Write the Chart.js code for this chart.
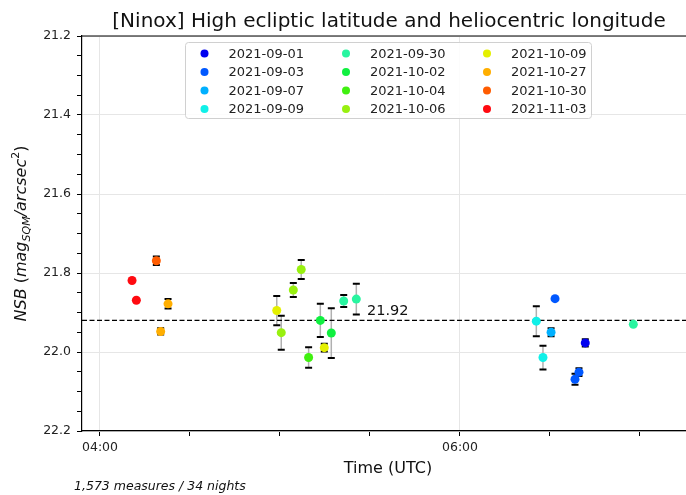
<!DOCTYPE html>
<html>
<head>
<meta charset="utf-8">
<script src="https://cdn.jsdelivr.net/npm/chart.js@4/dist/chart.umd.min.js"></script>
<style>
  html, body { margin: 0; padding: 0; background: #fff; }
  #wrap { width: 686px; height: 495px; }
</style>
</head>
<body>
<div id="wrap"><canvas id="chart" width="686" height="495"></canvas></div>
<script>
// nights shown in the legend and their colours
const dates = ["2021-09-01", "2021-09-03", "2021-09-07", "2021-09-09",
               "2021-09-30", "2021-10-02", "2021-10-04", "2021-10-06",
               "2021-10-09", "2021-10-27", "2021-10-30", "2021-11-03"];
const dateColors = ["#0000f0", "#0058ff", "#00b0ff", "#10f0e8",
                    "#28f5a0", "#10f040", "#40f010", "#98f010",
                    "#e4f000", "#ffae00", "#ff5c00", "#ff0a10"];

// one entry per point: time (hours UTC), NSB, error, night index
const pointTime = [4.313, 4.178, 4.202, 4.378, 4.337,
                   4.982, 5.007, 5.074, 5.118, 5.159, 5.224, 5.246, 5.285, 5.354, 5.424,
                   6.424, 6.528, 6.506, 6.461, 6.696, 6.661, 6.639, 6.963];
const pointNsb  = [21.769, 21.819, 21.869, 21.878, 21.948,
                   21.895, 21.951, 21.843, 21.791, 22.014, 21.920, 21.989, 21.952, 21.871, 21.866,
                   21.922, 21.865, 21.950, 22.014, 21.977, 22.051, 22.069, 21.930];
const pointErr  = [0.011, 0, 0, 0.012, 0.008,
                   0.037, 0.043, 0.018, 0.024, 0.026, 0.042, 0.010, 0.063, 0.015, 0.039,
                   0.038, 0, 0.010, 0.030, 0.009, 0.010, 0.014, 0];
const pointNight = [10, 11, 11, 9, 9,
                    8, 7, 7, 7, 6, 5, 8, 5, 4, 4,
                    3, 1, 2, 3, 0, 1, 1, 4];

const meanNsb = 21.92;

const xMajorTicks = [4, 6];
const xTickLabels = ["04:00", "06:00"];
const xMinorTicks = [4, 4.5, 5, 5.5, 6, 6.5, 7];
const yMajorTicks = [21.2, 21.4, 21.6, 21.8, 22.0, 22.2];
const yTickLabels = ["21.2", "21.4", "21.6", "21.8", "22.0", "22.2"];

const FONT = "'DejaVu Sans', sans-serif";

let yMinorTicks = [];
for (let v = 21.2; v < 22.2001; v += 0.05) yMinorTicks.push(Math.round(v * 100) / 100);

function findTick(list, v) {
    return list.findIndex(t => Math.abs(t - v) < 1e-6);
}

const datasets = dates.map((d, i) => {
    const pts = [];
    pointTime.forEach((t, k) => {
        if (pointNight[k] === i) pts.push({ x: t, y: pointNsb[k], e: pointErr[k] });
    });
    return {
        label: d,
        data: pts,
        backgroundColor: dateColors[i],
        borderWidth: 0,
        pointRadius: 4.5,
    };
});

// the plot runs off the right edge of the picture
const stretchRight = {
    id: "stretchRight",
    afterLayout(chart) {
        const xs = chart.scales.x;
        const right = chart.width;
        xs.right = right;
        xs.width = right - xs.left;
        xs.configure();
        chart.chartArea.right = right;
        chart.chartArea.width = right - chart.chartArea.left;
    },
};

const errorBars = {
    id: "errorBars",
    beforeDatasetsDraw(chart) {
        const ctx = chart.ctx;
        const ys = chart.scales.y;
        ctx.save();
        chart.data.datasets.forEach((ds, i) => {
            const meta = chart.getDatasetMeta(i);
            meta.data.forEach((el, k) => {
                const p = ds.data[k];
                if (!p.e) return;
                const y1 = ys.getPixelForValue(p.y - p.e);
                const y2 = ys.getPixelForValue(p.y + p.e);
                ctx.strokeStyle = "#b0b0b0";
                ctx.lineWidth = 1.5;
                ctx.beginPath();
                ctx.moveTo(el.x, y1);
                ctx.lineTo(el.x, y2);
                ctx.stroke();
                ctx.strokeStyle = "#000";
                ctx.lineWidth = 2;
                ctx.beginPath();
                ctx.moveTo(el.x - 3.5, y1); ctx.lineTo(el.x + 3.5, y1);
                ctx.moveTo(el.x - 3.5, y2); ctx.lineTo(el.x + 3.5, y2);
                ctx.stroke();
            });
        });
        ctx.restore();
    },
};

const decorations = {
    id: "decorations",
    beforeDatasetsDraw(chart) {
        const ctx = chart.ctx;
        const a = chart.chartArea;
        const y = chart.scales.y.getPixelForValue(meanNsb);
        ctx.save();
        ctx.strokeStyle = "#000";
        ctx.lineWidth = 1.2;
        ctx.setLineDash([5, 2.5]);
        ctx.beginPath();
        ctx.moveTo(a.left, y);
        ctx.lineTo(a.right, y);
        ctx.stroke();
        ctx.restore();
    },
    afterDraw(chart) {
        const ctx = chart.ctx;
        const a = chart.chartArea;
        ctx.save();

        // top spine
        ctx.strokeStyle = "#000";
        ctx.lineWidth = 1.2;
        ctx.beginPath();
        ctx.moveTo(a.left, a.top);
        ctx.lineTo(a.right, a.top);
        ctx.stroke();

        // mean label
        ctx.fillStyle = "#111";
        ctx.font = "14.5px " + FONT;
        ctx.textAlign = "left";
        ctx.textBaseline = "alphabetic";
        ctx.fillText(meanNsb.toFixed(2), 367, chart.scales.y.getPixelForValue(meanNsb) - 5);

        // title
        ctx.fillStyle = "#111";
        ctx.font = "20px " + FONT;
        ctx.textAlign = "center";
        ctx.fillText("[Ninox] High ecliptic latitude and heliocentric longitude", 389, 27);

        // x label
        ctx.font = "16px " + FONT;
        ctx.fillText("Time (UTC)", 388, 473);

        // footnote
        ctx.font = "italic 12.5px " + FONT;
        ctx.textAlign = "left";
        ctx.fillText("1,573 measures / 34 nights", 74, 490);

        // y label with sub/superscript
        const parts = [
            { t: "NSB", f: "italic 16px ", dy: 0 },
            { t: " (", f: "16px ", dy: 0 },
            { t: "mag", f: "italic 16px ", dy: 0 },
            { t: "SQM", f: "italic 11px ", dy: 4 },
            { t: "/arcsec", f: "italic 16px ", dy: 0 },
            { t: "2", f: "11px ", dy: -7 },
            { t: ")", f: "16px ", dy: 0 },
        ];
        let total = 0;
        parts.forEach(p => { ctx.font = p.f + FONT; p.w = ctx.measureText(p.t).width; total += p.w; });
        ctx.translate(26, (a.top + a.bottom) / 2);
        ctx.rotate(-Math.PI / 2);
        let x = -total / 2;
        parts.forEach(p => {
            ctx.font = p.f + FONT;
            ctx.fillText(p.t, x, p.dy);
            x += p.w;
        });
        ctx.setTransform(1, 0, 0, 1, 0, 0);

        // legend, 3 columns x 4 rows
        const lx = 185, ly = 42, lw = 406, lh = 76;
        ctx.fillStyle = "rgba(255,255,255,0.85)";
        ctx.strokeStyle = "#d0d0d0";
        ctx.lineWidth = 1;
        ctx.beginPath();
        ctx.roundRect(lx + 0.5, ly + 0.5, lw, lh, 3);
        ctx.fill();
        ctx.stroke();
        const colX = [204.5, 346, 487];
        ctx.font = "13px " + FONT;
        ctx.textBaseline = "middle";
        dates.forEach((d, i) => {
            const c = Math.floor(i / 4), r = i % 4;
            const cy = 53.5 + r * 18.5;
            ctx.fillStyle = dateColors[i];
            ctx.beginPath();
            ctx.arc(colX[c], cy, 4, 0, Math.PI * 2);
            ctx.fill();
            ctx.fillStyle = "#222";
            ctx.fillText(d, colX[c] + 24, cy + 1);
        });
        ctx.restore();
    },
};

new Chart(document.getElementById("chart"), {
    type: "scatter",
    data: { datasets: datasets },
    options: {
        responsive: false,
        animation: false,
        events: [],
        layout: { padding: { top: 36, right: 0, bottom: 0, left: 0 } },
        plugins: {
            legend: { display: false },
            tooltip: { enabled: false },
        },
        scales: {
            x: {
                type: "linear",
                min: 3.9,
                max: 7.2556,
                afterBuildTicks: s => { s.ticks = xMinorTicks.map(v => ({ value: v })); },
                afterFit: s => { s.height = 64; },
                ticks: {
                    autoSkip: false,
                    maxRotation: 0,
                    padding: 4,
                    color: "#222",
                    font: { family: FONT, size: 12.5 },
                    callback: v => { const i = findTick(xMajorTicks, v); return i >= 0 ? xTickLabels[i] : ""; },
                },
                grid: {
                    color: c => (c.tick && findTick(xMajorTicks, c.tick.value) >= 0) ? "#e6e6e6" : "rgba(0,0,0,0)",
                    tickColor: "#000",
                    tickLength: 5,
                    lineWidth: 1,
                },
                border: { color: "#000", width: 1.2 },
            },
            y: {
                reverse: true,
                min: 21.2,
                max: 22.2,
                afterBuildTicks: s => { s.ticks = yMinorTicks.map(v => ({ value: v })); },
                afterFit: s => { s.width = 82; },
                ticks: {
                    autoSkip: false,
                    padding: 6,
                    color: "#222",
                    font: { family: FONT, size: 12.5 },
                    callback: v => { const i = findTick(yMajorTicks, v); return i >= 0 ? yTickLabels[i] : ""; },
                },
                grid: {
                    color: c => (c.tick && findTick(yMajorTicks, c.tick.value) >= 0) ? "#e6e6e6" : "rgba(0,0,0,0)",
                    tickColor: "#000",
                    tickLength: 5,
                    lineWidth: 1,
                },
                border: { color: "#000", width: 1.2 },
            },
        },
    },
    plugins: [stretchRight, errorBars, decorations],
});
</script>
</body>
</html>
